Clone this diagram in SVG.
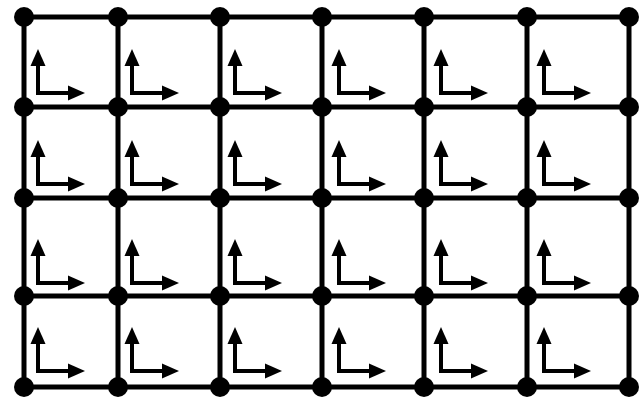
<svg xmlns="http://www.w3.org/2000/svg" xmlns:xlink="http://www.w3.org/1999/xlink" width="642" height="401" viewBox="0 0 642 401">
<style>
.edge{stroke:#000;stroke-width:5;stroke-linecap:butt}
.node{fill:#000}
.ax{fill:none;stroke:#000;stroke-width:4;stroke-linejoin:miter;stroke-linecap:square}
.head{fill:#000}
</style>
<defs>
<g id="axes">
<path class="ax" d="M0,-29 V0 H31"/>
<polygon class="head" points="0,-44 -7.5,-27 7.5,-27"/>
<polygon class="head" points="47,0 30,-7.5 30,7.5"/>
</g>
</defs>
<rect width="642" height="401" fill="#fff"/>
<g id="connectors">
<!-- horizontal -->
<line class="edge" x1="24" y1="17" x2="629" y2="17"/>
<line class="edge" x1="24" y1="107" x2="629" y2="107"/>
<line class="edge" x1="24" y1="198" x2="629" y2="198"/>
<line class="edge" x1="24" y1="296" x2="629" y2="296"/>
<line class="edge" x1="24" y1="387" x2="629" y2="387"/>
<!-- vertical -->
<line class="edge" x1="24" y1="17" x2="24" y2="387"/>
<line class="edge" x1="118" y1="17" x2="118" y2="387"/>
<line class="edge" x1="220" y1="17" x2="220" y2="387"/>
<line class="edge" x1="322" y1="17" x2="322" y2="387"/>
<line class="edge" x1="424" y1="17" x2="424" y2="387"/>
<line class="edge" x1="527" y1="17" x2="527" y2="387"/>
<line class="edge" x1="629" y1="17" x2="629" y2="387"/>
</g>
<g id="axes-marks">
<use xlink:href="#axes" transform="translate(38,93)"/>
<use xlink:href="#axes" transform="translate(132,93)"/>
<use xlink:href="#axes" transform="translate(235,93)"/>
<use xlink:href="#axes" transform="translate(339,93)"/>
<use xlink:href="#axes" transform="translate(441,93)"/>
<use xlink:href="#axes" transform="translate(544,93)"/>
<use xlink:href="#axes" transform="translate(38,184)"/>
<use xlink:href="#axes" transform="translate(132,184)"/>
<use xlink:href="#axes" transform="translate(235,184)"/>
<use xlink:href="#axes" transform="translate(339,184)"/>
<use xlink:href="#axes" transform="translate(441,184)"/>
<use xlink:href="#axes" transform="translate(544,184)"/>
<use xlink:href="#axes" transform="translate(38,283)"/>
<use xlink:href="#axes" transform="translate(132,283)"/>
<use xlink:href="#axes" transform="translate(235,283)"/>
<use xlink:href="#axes" transform="translate(339,283)"/>
<use xlink:href="#axes" transform="translate(441,283)"/>
<use xlink:href="#axes" transform="translate(544,283)"/>
<use xlink:href="#axes" transform="translate(38,371)"/>
<use xlink:href="#axes" transform="translate(132,371)"/>
<use xlink:href="#axes" transform="translate(235,371)"/>
<use xlink:href="#axes" transform="translate(339,371)"/>
<use xlink:href="#axes" transform="translate(441,371)"/>
<use xlink:href="#axes" transform="translate(544,371)"/>
</g>
<g id="n-r1c1"><circle class="node" cx="24" cy="17" r="10"/></g>
<g id="n-r1c2"><circle class="node" cx="118" cy="17" r="10"/></g>
<g id="n-r1c3"><circle class="node" cx="220" cy="17" r="10"/></g>
<g id="n-r1c4"><circle class="node" cx="322" cy="17" r="10"/></g>
<g id="n-r1c5"><circle class="node" cx="424" cy="17" r="10"/></g>
<g id="n-r1c6"><circle class="node" cx="527" cy="17" r="10"/></g>
<g id="n-r1c7"><circle class="node" cx="629" cy="17" r="10"/></g>
<g id="n-r2c1"><circle class="node" cx="24" cy="107" r="10"/></g>
<g id="n-r2c2"><circle class="node" cx="118" cy="107" r="10"/></g>
<g id="n-r2c3"><circle class="node" cx="220" cy="107" r="10"/></g>
<g id="n-r2c4"><circle class="node" cx="322" cy="107" r="10"/></g>
<g id="n-r2c5"><circle class="node" cx="424" cy="107" r="10"/></g>
<g id="n-r2c6"><circle class="node" cx="527" cy="107" r="10"/></g>
<g id="n-r2c7"><circle class="node" cx="629" cy="107" r="10"/></g>
<g id="n-r3c1"><circle class="node" cx="24" cy="198" r="10"/></g>
<g id="n-r3c2"><circle class="node" cx="118" cy="198" r="10"/></g>
<g id="n-r3c3"><circle class="node" cx="220" cy="198" r="10"/></g>
<g id="n-r3c4"><circle class="node" cx="322" cy="198" r="10"/></g>
<g id="n-r3c5"><circle class="node" cx="424" cy="198" r="10"/></g>
<g id="n-r3c6"><circle class="node" cx="527" cy="198" r="10"/></g>
<g id="n-r3c7"><circle class="node" cx="629" cy="198" r="10"/></g>
<g id="n-r4c1"><circle class="node" cx="24" cy="296" r="10"/></g>
<g id="n-r4c2"><circle class="node" cx="118" cy="296" r="10"/></g>
<g id="n-r4c3"><circle class="node" cx="220" cy="296" r="10"/></g>
<g id="n-r4c4"><circle class="node" cx="322" cy="296" r="10"/></g>
<g id="n-r4c5"><circle class="node" cx="424" cy="296" r="10"/></g>
<g id="n-r4c6"><circle class="node" cx="527" cy="296" r="10"/></g>
<g id="n-r4c7"><circle class="node" cx="629" cy="296" r="10"/></g>
<g id="n-r5c1"><circle class="node" cx="24" cy="387" r="10"/></g>
<g id="n-r5c2"><circle class="node" cx="118" cy="387" r="10"/></g>
<g id="n-r5c3"><circle class="node" cx="220" cy="387" r="10"/></g>
<g id="n-r5c4"><circle class="node" cx="322" cy="387" r="10"/></g>
<g id="n-r5c5"><circle class="node" cx="424" cy="387" r="10"/></g>
<g id="n-r5c6"><circle class="node" cx="527" cy="387" r="10"/></g>
<g id="n-r5c7"><circle class="node" cx="629" cy="387" r="10"/></g>
</svg>
